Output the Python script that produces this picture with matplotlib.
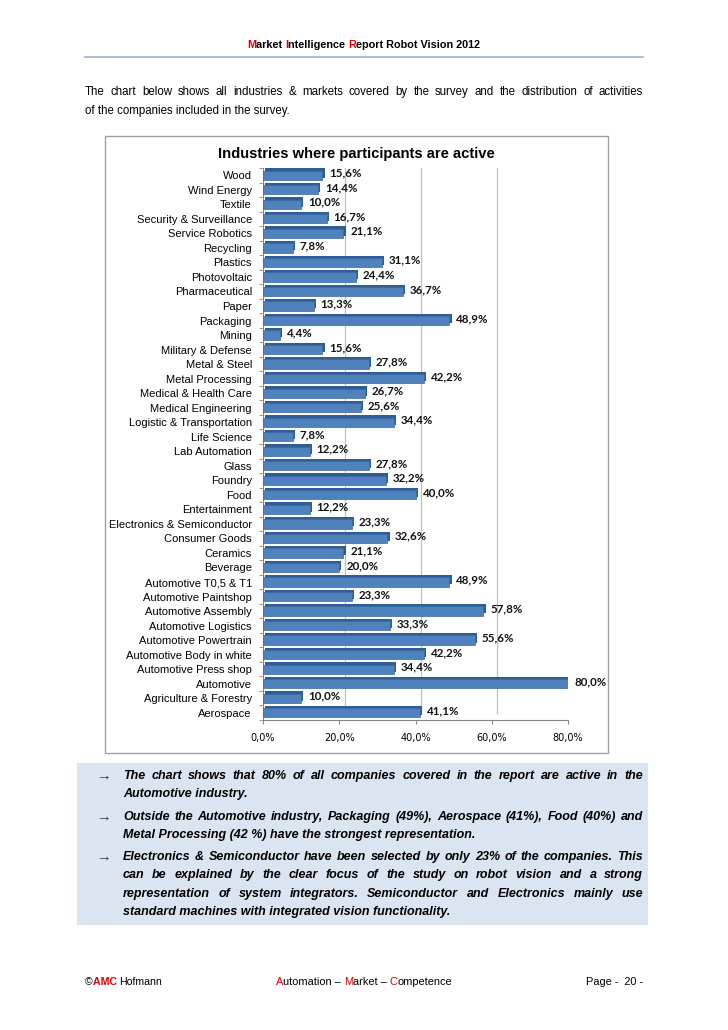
import numpy as np
import matplotlib
matplotlib.use("Agg")
import matplotlib.pyplot as plt
from matplotlib.patches import Rectangle
from matplotlib.transforms import ScaledTranslation

industries = [
    "Wood", "Wind Energy", "Textile", "Security & Surveillance", "Service Robotics",
    "Recycling", "Plastics", "Photovoltaic", "Pharmaceutical", "Paper", "Packaging",
    "Mining", "Military & Defense", "Metal & Steel", "Metal Processing",
    "Medical & Health Care", "Medical Engineering", "Logistic & Transportation",
    "Life Science", "Lab Automation", "Glass", "Foundry", "Food", "Entertainment",
    "Electronics & Semiconductor", "Consumer Goods", "Ceramics", "Beverage",
    "Automotive T0,5 & T1", "Automotive Paintshop", "Automotive Assembly",
    "Automotive Logistics", "Automotive Powertrain", "Automotive Body in white",
    "Automotive Press shop", "Automotive", "Agriculture & Forestry", "Aerospace",
]
shares = [
    15.6, 14.4, 10.0, 16.7, 21.1, 7.8, 31.1, 24.4, 36.7, 13.3, 48.9,
    4.4, 15.6, 27.8, 42.2, 26.7, 25.6, 34.4, 7.8, 12.2, 27.8, 32.2, 40.0, 12.2,
    23.3, 32.6, 21.1, 20.0, 48.9, 23.3, 57.8, 33.3, 55.6, 42.2, 34.4, 80.0, 10.0, 41.1,
]
x_ticks = [0, 20, 40, 60, 80]

intro_lines = [
    "The chart below shows all industries & markets covered by the survey and the distribution of activities",
    "of the companies included in the survey.",
]
bullets = [
    ["The chart shows that 80% of all companies covered in the report are active in the",
     "Automotive industry."],
    ["Outside the Automotive industry,  Packaging (49%), Aerospace (41%), Food (40%) and",
     "Metal Processing (42 %) have the strongest representation."],
    ["Electronics & Semiconductor have been selected by only 23% of the companies. This",
     "can be explained by the clear focus of the study on robot vision and a strong",
     "representation of system integrators. Semiconductor and Electronics mainly use",
     "standard machines with integrated vision functionality."],
]

W, H = 728, 1030
RED = "#E00000"
SANS = ["Liberation Sans", "DejaVu Sans"]

fig = plt.figure(figsize=(W / 100, H / 100), dpi=100)
renderer = fig.canvas.get_renderer()


def fx(x):
    return x / W


def fy(y):
    return 1 - y / H


def measure(s, **kw):
    # pipes keep leading/trailing spaces in the measured width
    t = fig.text(0, 0, "|" + s + "|", **kw)
    w = t.get_window_extent(renderer).width
    t.set_text("||")
    w -= t.get_window_extent(renderer).width
    t.remove()
    return w


def draw_runs(x, y, runs, ha="left", size=7.5):
    widths = []
    for s, color, weight in runs:
        widths.append(measure(s, size=size, fontweight=weight, family=SANS))
    total = sum(widths)
    if ha == "center":
        x -= total / 2
    elif ha == "right":
        x -= total
    for (s, color, weight), w in zip(runs, widths):
        fig.text(fx(x), fy(y), s, color=color, fontweight=weight, size=size,
                 family=SANS, ha="left", va="center")
        x += w


def draw_justified(x0, x1, y, line, **kw):
    words = line.split()
    widths = [measure(wd, **kw) for wd in words]
    gap = (x1 - x0 - sum(widths)) / max(len(words) - 1, 1)
    x = x0
    for wd, w in zip(words, widths):
        fig.text(fx(x), fy(y), wd, ha="left", va="center", **kw)
        x += w + gap


# header
draw_runs(247, 45, [("M", RED, "bold"), ("arket ", "black", "bold"),
                    ("I", RED, "bold"), ("ntelligence ", "black", "bold"),
                    ("R", RED, "bold"), ("eport Robot Vision 2012", "black", "bold")],
          size=7.8)
fig.add_artist(plt.Line2D([fx(85), fx(643)], [fy(57), fy(57)], color="#9FB1C4", lw=1.2))

# intro paragraph
intro_kw = dict(size=8.3, family=SANS, color="black")
draw_justified(85, 643, 92, intro_lines[0], **intro_kw)
fig.text(fx(85), fy(111), intro_lines[1], ha="left", va="center", **intro_kw)

# chart frame and title
fig.add_artist(Rectangle((fx(105), fy(753)), (608 - 105) / W, (753 - 136) / H,
                         transform=fig.transFigure, fill=False, ec="#A0A0A0", lw=1.0))
fig.text(fx(356), fy(154), "Industries where participants are active", ha="center",
         va="center", size=10.6, fontweight="bold", family=SANS)

ax = fig.add_axes([fx(263), fy(720), (568 - 263) / W, (720 - 168) / H])
n = len(industries)
ypos = np.arange(n)[::-1]

# gridlines of the 3D back wall, shifted up-right
wall = ax.get_xaxis_transform() + ScaledTranslation(4 / 72, 4.5 / 72, fig.dpi_scale_trans)
ax.vlines(x_ticks[1:], 0, 1, transform=wall, color="#BFBFBF", lw=0.9, zorder=1)

depth = ax.transData + ScaledTranslation(1.6 / 72, 1.6 / 72, fig.dpi_scale_trans)
ax.barh(ypos, shares, height=0.64, color="#2F5E96", transform=depth, zorder=2)
ax.barh(ypos, shares, height=0.64, color="#4F81BD", edgecolor="#3C6AA3", lw=0.5, zorder=3)

for y, v in zip(ypos, shares):
    ax.annotate(f"{v:.1f}%".replace(".", ","), (v, y), xytext=(5, 1.5),
                textcoords="offset points", va="center", ha="left", size=8.3,
                fontweight="bold", family=["Lato", "DejaVu Sans"], color="#111111",
                annotation_clip=False)

ax.set_xlim(0, 80)
ax.set_ylim(-0.5, n - 0.5)
ax.set_xticks(x_ticks)
ax.set_xticklabels([f"{t:.1f}%".replace(".", ",") for t in x_ticks],
                   family="DejaVu Sans", size=7)
ax.set_yticks(ypos)
ax.set_yticklabels(industries, family=SANS, size=8.0)
ax.set_yticks(np.arange(n + 1) - 0.5, minor=True)
ax.tick_params(axis="y", which="major", length=0, pad=8)
ax.tick_params(axis="y", which="minor", length=3, color="#868686")
ax.tick_params(axis="x", length=3, color="#868686", pad=6)
for side in ["top", "right"]:
    ax.spines[side].set_visible(False)
for side in ["left", "bottom"]:
    ax.spines[side].set_color("#868686")
ax.set_facecolor("none")

# comment box
fig.add_artist(Rectangle((fx(77), fy(925)), (648 - 77) / W, (925 - 763) / H,
                         transform=fig.transFigure, fc="#DBE5F1", ec="none", zorder=0))
box_kw = dict(size=9.0, family=SANS, fontweight="bold", style="italic", color="black")
line_y = [[776, 794], [817, 835], [857, 875, 894, 912]]
for lines, ys in zip(bullets, line_y):
    fig.text(fx(96), fy(ys[0]), "\u2192", ha="left", va="center", size=10.5,
             family=SANS, color="#333333")
    for i, (line, y) in enumerate(zip(lines, ys)):
        if i < len(lines) - 1:
            draw_justified(123, 643, y, line, **box_kw)
        else:
            fig.text(fx(123), fy(y), line, ha="left", va="center", **box_kw)

# footer
draw_runs(85, 982, [("\u00a9", "black", "normal"), ("AMC ", RED, "bold"),
                    ("Hofmann", "black", "normal")], size=7.6)
draw_runs(364, 982, [("A", RED, "normal"), ("utomation \u2013 ", "black", "normal"),
                     ("M", RED, "normal"), ("arket \u2013 ", "black", "normal"),
                     ("C", RED, "normal"), ("ompetence", "black", "normal")],
          ha="center", size=7.9)
draw_runs(643, 982, [("Page -  20 -", "black", "normal")], ha="right", size=7.9)

fig.savefig("out.png", dpi=100)
